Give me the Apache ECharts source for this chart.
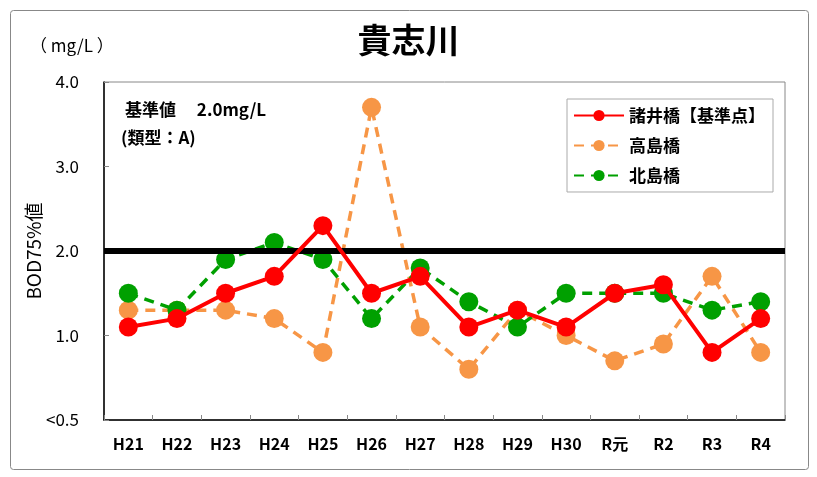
<!DOCTYPE html>
<html><head><meta charset="utf-8">
<script src="https://cdn.jsdelivr.net/npm/echarts@6/dist/echarts.min.js"></script>
<style>html,body{margin:0;padding:0;background:#fff}#c{width:817px;height:477px}</style>
</head><body><div id="c"></div>
<script>
const categories = ['H21','H22','H23','H24','H25','H26','H27','H28','H29','H30','R元','R2','R3','R4'];
const moroi = [1.1,1.2,1.5,1.7,2.3,1.5,1.7,1.1,1.3,1.1,1.5,1.6,0.8,1.2];
const takashima = [1.3,1.3,1.3,1.2,0.8,3.7,1.1,0.6,1.3,1.0,0.7,0.9,1.7,0.8];
const kitajima = [1.5,1.3,1.9,2.1,1.9,1.2,1.8,1.4,1.1,1.5,1.5,1.5,1.3,1.4];
const standard = 2.0;
const yTicks = {0:'<0.5',1:'1.0',2:'2.0',3:'3.0',4:'4.0'};
const F = '"Noto Sans CJK JP", "Noto Sans", sans-serif';

const chart = echarts.init(document.getElementById('c'));
chart.setOption({
  animation:false,
  backgroundColor:'#fff',
  textStyle:{fontFamily:F},
  title:{text:'貴志川', left:'center', top:18, textStyle:{fontSize:34, fontWeight:'bold', color:'#000', fontFamily:F}},
  graphic:[
    {type:'rect', shape:{x:10.5,y:10.5,width:798,height:459,r:3}, style:{fill:'none', stroke:'#888', lineWidth:1}, z:-1},
    {type:'text', left:30, top:37, style:{text:'（ mg/L ）', font:'17px '+F, fill:'#000'}},
    {type:'text', left:125, top:101, style:{text:'基準値\u2003 2.0mg/L', font:'bold 17px '+F, fill:'#000'}},
    {type:'text', left:121, top:129, style:{text:'(類型：A)', font:'bold 17px '+F, fill:'#000'}}
  ],
  legend:{
    right:44, top:99, orient:'vertical', itemWidth:50, itemHeight:14, itemGap:13,
    padding:[8,8,8,6],
    borderColor:'#aaa', borderWidth:1, backgroundColor:'#fff',
    textStyle:{fontSize:17, fontWeight:'bold', color:'#000', fontFamily:F},
    data:['諸井橋【基準点】','高島橋','北島橋']
  },
  grid:{left:104, right:32, top:82, bottom:57, show:true, borderColor:'#888', borderWidth:1},
  xAxis:{
    type:'category', data:categories, boundaryGap:true,
    axisLine:{lineStyle:{color:'#000', width:1.5}},
    axisTick:{show:true, inside:true, length:5, lineStyle:{color:'#888'}},
    axisLabel:{fontSize:16, fontWeight:'bold', color:'#000', margin:16, fontFamily:F}
  },
  yAxis:{
    type:'value', min:0, max:4, interval:1,
    name:'BOD75%値', nameLocation:'middle', nameGap:61, nameRotate:90, nameMoveOverlap:false,
    nameTextStyle:{fontSize:19, color:'#000', fontFamily:F},
    axisLine:{show:true, lineStyle:{color:'#000', width:1.5}},
    axisTick:{show:true, inside:true, length:5, lineStyle:{color:'#888'}},
    splitLine:{show:false},
    axisLabel:{fontSize:17, color:'#000', margin:25, fontFamily:F, formatter:v=>yTicks[v]!==undefined?yTicks[v]:''}
  },
  series:[
    {name:'諸井橋【基準点】', type:'line', data:moroi, symbol:'circle', symbolSize:19,
     itemStyle:{color:'#ff0000'}, lineStyle:{color:'#ff0000', width:4}, z:5,
     markLine:{silent:true, symbol:'none', label:{show:false},
       lineStyle:{color:'#000', width:6, type:'solid'}, data:[{yAxis:standard}]}},
    {name:'高島橋', type:'line', data:takashima, symbol:'circle', symbolSize:19,
     itemStyle:{color:'#f79646'}, lineStyle:{color:'#f79646', width:3.5, type:[10,7]}, z:3},
    {name:'北島橋', type:'line', data:kitajima, symbol:'circle', symbolSize:19,
     itemStyle:{color:'#00a000'}, lineStyle:{color:'#00a000', width:3.5, type:[10,7]}, z:4}
  ]
});
</script></body></html>
